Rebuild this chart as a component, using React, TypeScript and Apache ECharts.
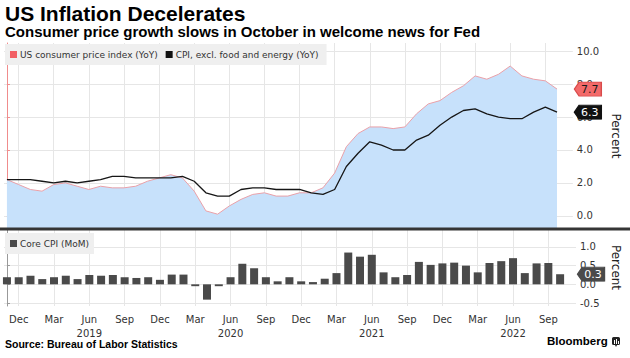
import React, { useEffect, useRef } from "react";
import * as echarts from "echarts";

// Months from Nov 2018 to Oct 2022
const months: string[] = [
  "Nov 2018", "Dec 2018",
  "Jan 2019", "Feb 2019", "Mar 2019", "Apr 2019", "May 2019", "Jun 2019", "Jul 2019", "Aug 2019", "Sep 2019", "Oct 2019", "Nov 2019", "Dec 2019",
  "Jan 2020", "Feb 2020", "Mar 2020", "Apr 2020", "May 2020", "Jun 2020", "Jul 2020", "Aug 2020", "Sep 2020", "Oct 2020", "Nov 2020", "Dec 2020",
  "Jan 2021", "Feb 2021", "Mar 2021", "Apr 2021", "May 2021", "Jun 2021", "Jul 2021", "Aug 2021", "Sep 2021", "Oct 2021", "Nov 2021", "Dec 2021",
  "Jan 2022", "Feb 2022", "Mar 2022", "Apr 2022", "May 2022", "Jun 2022", "Jul 2022", "Aug 2022", "Sep 2022", "Oct 2022",
];

const cpiYoY: number[] = [
  2.2, 1.9,
  1.6, 1.5, 1.9, 2.0, 1.8, 1.6, 1.8, 1.7, 1.7, 1.8, 2.1, 2.3,
  2.5, 2.3, 1.5, 0.3, 0.1, 0.6, 1.0, 1.3, 1.4, 1.2, 1.2, 1.4,
  1.4, 1.7, 2.6, 4.2, 5.0, 5.4, 5.4, 5.3, 5.4, 6.2, 6.8, 7.0,
  7.5, 7.9, 8.5, 8.3, 8.6, 9.1, 8.5, 8.3, 8.2, 7.7,
];

const coreYoY: number[] = [
  2.2, 2.2,
  2.2, 2.1, 2.0, 2.1, 2.0, 2.1, 2.2, 2.4, 2.4, 2.3, 2.3, 2.3,
  2.3, 2.4, 2.1, 1.4, 1.2, 1.2, 1.6, 1.7, 1.7, 1.6, 1.6, 1.6,
  1.4, 1.3, 1.6, 3.0, 3.8, 4.5, 4.3, 4.0, 4.0, 4.6, 4.9, 5.5,
  6.0, 6.4, 6.5, 6.2, 6.0, 5.9, 5.9, 6.3, 6.6, 6.3,
];

const coreMoM: number[] = [
  0.19, 0.19,
  0.23, 0.14, 0.19, 0.23, 0.14, 0.25, 0.23, 0.25, 0.19, 0.17, 0.19, 0.12,
  0.26, 0.26, -0.05, -0.41, -0.05, 0.19, 0.55, 0.43, 0.19, 0.08, 0.19, 0.08,
  0.06, 0.15, 0.30, 0.85, 0.74, 0.79, 0.32, 0.19, 0.25, 0.60, 0.52, 0.56,
  0.58, 0.50, 0.32, 0.57, 0.62, 0.70, 0.30, 0.56, 0.57, 0.27,
];

// quarterly ticks: Dec, Mar, Jun, Sep
const xTickIdx: number[] = months
  .map((m, i) => (/^(Dec|Mar|Jun|Sep)/.test(m) ? i : -1))
  .filter((i) => i >= 0);
const topTicks: number[] = [0, 2, 4, 6, 8, 10];
const bottomTicks: number[] = [-0.5, 0, 0.5, 1.0];
const bottomLowest: number = bottomTicks[0];
const bottomLabels: number[] = bottomTicks.slice(1);

const SMALL = "DejaVu Sans";
const BOLD = "Liberation Sans";
const X_MIN = -0.25;
const X_MAX = 48.35;
const GRID_COLOR = "#e6e6e6";

function tag(value: number, fill: string, border: string, text: string) {
  return {
    symbol: "path://M0 7 L5 0 L28 0 L28 14 L5 14 Z",
    symbolSize: [27, 14],
    symbolKeepAspect: false,
    silent: true,
    data: [
      {
        coord: [X_MAX, value],
        value: value.toFixed(1),
        symbolOffset: [15, 0],
        itemStyle: { color: fill, borderColor: border, borderWidth: 1 },
        label: {
          show: true,
          position: "inside",
          offset: [2, 0],
          color: text,
          fontSize: 11,
          fontFamily: SMALL,
          formatter: value.toFixed(1),
        },
      },
    ],
  };
}

export default function App() {
  const ref = useRef<HTMLDivElement>(null);
  useEffect(() => {
    const chart = echarts.init(ref.current!, null, { renderer: "svg" });
    const xLabelFmt = (v: number) => {
      const m = months[Math.round(v)];
      if (!m) return "";
      const [mon, yr] = m.split(" ");
      return mon === "Jun" ? `${mon}\n${yr}` : mon;
    };
    const option: any = {
      animation: false,
      backgroundColor: "#fff",
      grid: [
        { left: 4, right: 51, top: 43, height: 186 },
        { left: 4, right: 51, top: 229, height: 77 },
      ],
      xAxis: [
        {
          type: "value",
          gridIndex: 0,
          min: X_MIN,
          max: X_MAX,
          axisLine: { show: false },
          axisTick: { show: false, customValues: xTickIdx },
          axisLabel: { show: false, customValues: xTickIdx },
          splitLine: { show: true, lineStyle: { color: GRID_COLOR, width: 1 } },
        },
        {
          type: "value",
          gridIndex: 1,
          min: X_MIN,
          max: X_MAX,
          axisLine: { show: false },
          axisTick: { show: false, customValues: xTickIdx },
          axisLabel: {
            show: true,
            customValues: xTickIdx,
            formatter: xLabelFmt,
            color: "#333",
            fontSize: 10,
            fontFamily: SMALL,
            lineHeight: 14,
            margin: 6,
          },
          splitLine: { show: true, lineStyle: { color: GRID_COLOR, width: 1 } },
        },
      ],
      yAxis: [
        {
          type: "value",
          gridIndex: 0,
          position: "right",
          min: -0.8,
          max: 10.5,
          axisLine: { show: true, lineStyle: { color: "#f08c8c", width: 1 } },
          axisTick: { show: true, customValues: topTicks, length: 3, lineStyle: { color: "#f08c8c" } },
          axisLabel: {
            customValues: topTicks,
            formatter: (v: number) => v.toFixed(1),
            color: "#333",
            fontSize: 10,
            fontFamily: SMALL,
            margin: 4,
          },
          splitLine: { show: true, lineStyle: { color: GRID_COLOR, width: 1 } },
          name: "Percent",
          nameLocation: "middle",
          nameRotate: -90,
          nameGap: 30,
          nameTextStyle: { color: "#222", fontSize: 12, fontFamily: SMALL },
        },
        {
          type: "value",
          gridIndex: 1,
          position: "right",
          min: -0.58,
          max: 1.48,
          axisLine: { show: true, lineStyle: { color: "#999", width: 1 } },
          axisTick: { show: true, customValues: bottomTicks, length: 3, lineStyle: { color: "#999" } },
          axisLabel: {
            customValues: bottomLabels,
            formatter: (v: number) => v.toFixed(1),
            color: "#333",
            fontSize: 10,
            fontFamily: SMALL,
            margin: 4,
          },
          splitLine: { show: true, lineStyle: { color: GRID_COLOR, width: 1 } },
          name: "Percent",
          nameLocation: "middle",
          nameRotate: -90,
          nameGap: 34,
          nameTextStyle: { color: "#222", fontSize: 12, fontFamily: SMALL },
        },
      ],
      legend: [
        {
          data: [
            { name: "US consumer price index (YoY)", itemStyle: { color: "#f25f64" } },
            { name: "CPI, excl. food and energy (YoY)", itemStyle: { color: "#111" } },
          ],
          left: 5,
          top: 44,
          orient: "horizontal",
          backgroundColor: "#efefef",
          padding: [6, 8, 6, 5],
          itemWidth: 7,
          itemHeight: 7,
          itemGap: 8,
          icon: "rect",
          selectedMode: false,
          textStyle: { fontSize: 9, color: "#333", fontFamily: SMALL, padding: [0, 0, 0, -2] },
        },
        {
          data: [{ name: "Core CPI (MoM)", itemStyle: { color: "#4a4a4a" } }],
          left: 5,
          top: 233,
          backgroundColor: "#efefef",
          padding: [6, 5, 6, 5],
          itemWidth: 7,
          itemHeight: 7,
          icon: "rect",
          selectedMode: false,
          textStyle: { fontSize: 9, color: "#333", fontFamily: SMALL, padding: [0, 0, 0, -2] },
        },
      ],
      series: [
        {
          name: "US consumer price index (YoY)",
          type: "line",
          xAxisIndex: 0,
          yAxisIndex: 0,
          data: cpiYoY.map((v, i) => [i, v]),
          symbol: "none",
          lineStyle: { color: "#eaa0a8", width: 1 },
          itemStyle: { color: "#eaa0a8" },
          areaStyle: { color: "#c7e1fb", opacity: 1, origin: "start" },
          markPoint: tag(cpiYoY[cpiYoY.length - 1], "#f36a6a", "#d84a4a", "#1a1a1a"),
          z: 2,
        },
        {
          name: "CPI, excl. food and energy (YoY)",
          type: "line",
          xAxisIndex: 0,
          yAxisIndex: 0,
          data: coreYoY.map((v, i) => [i, v]),
          symbol: "none",
          lineStyle: { color: "#161616", width: 1.3 },
          itemStyle: { color: "#161616" },
          markPoint: tag(coreYoY[coreYoY.length - 1], "#111", "#111", "#fff"),
          z: 3,
        },
        {
          name: "Core CPI (MoM)",
          type: "bar",
          xAxisIndex: 1,
          yAxisIndex: 1,
          data: coreMoM.map((v, i) => [i, v]),
          barWidth: 8,
          itemStyle: { color: "#4a4a4a" },
          markPoint: tag(coreMoM[coreMoM.length - 1], "#4a4a4a", "#4a4a4a", "#fff"),
          markLine: {
            silent: true,
            symbol: "none",
            lineStyle: { color: "transparent", width: 0 },
            label: {
              show: true,
              position: "end",
              distance: 4,
              color: "#333",
              fontSize: 10,
              fontFamily: SMALL,
              formatter: (p: any) => Number(p.value).toFixed(1),
            },
            data: [{ yAxis: bottomLowest }],
          },
          z: 2,
        },
      ],
      graphic: [
        {
          type: "rect",
          shape: { x: 0, y: 227.5, width: 630, height: 3 },
          style: { fill: "#353535" },
          z: 100,
        },
        {
          type: "text",
          left: 5,
          top: 3,
          style: { text: "US Inflation Decelerates", font: `bold 21px "${BOLD}"`, fill: "#000" },
        },
        {
          type: "text",
          left: 5,
          top: 24,
          style: {
            text: "Consumer price growth slows in October in welcome news for Fed",
            font: `bold 15px "${BOLD}"`,
            fill: "#000",
          },
        },
        {
          type: "text",
          left: 5,
          top: 338,
          style: { text: "Source: Bureau of Labor Statistics", font: `bold 10.5px "${BOLD}"`, fill: "#000" },
        },
        {
          type: "text",
          left: 547,
          top: 335,
          style: { text: "Bloomberg", font: `bold 11.5px "${BOLD}"`, fill: "#000" },
        },
        {
          type: "group",
          left: 612,
          top: 337,
          children: [
            { type: "rect", shape: { x: 0, y: 0, width: 8, height: 8, r: 1.5 }, style: { fill: "#222" } },
            { type: "polygon", shape: { points: [[3, 8], [5, 8], [4, 10]] }, style: { fill: "#222" } },
            { type: "rect", shape: { x: 2, y: 3, width: 1, height: 4 }, style: { fill: "#fff" } },
            { type: "rect", shape: { x: 4, y: 2, width: 1, height: 5 }, style: { fill: "#fff" } },
            { type: "rect", shape: { x: 6, y: 4, width: 1, height: 3 }, style: { fill: "#fff" } },
          ],
        },
      ],
    };
    chart.setOption(option);
    return () => chart.dispose();
  }, []);
  return (
    <div
      ref={ref}
      style={{ position: "fixed", left: 0, top: 0, width: 630, height: 358, background: "#fff" }}
    />
  );
}
